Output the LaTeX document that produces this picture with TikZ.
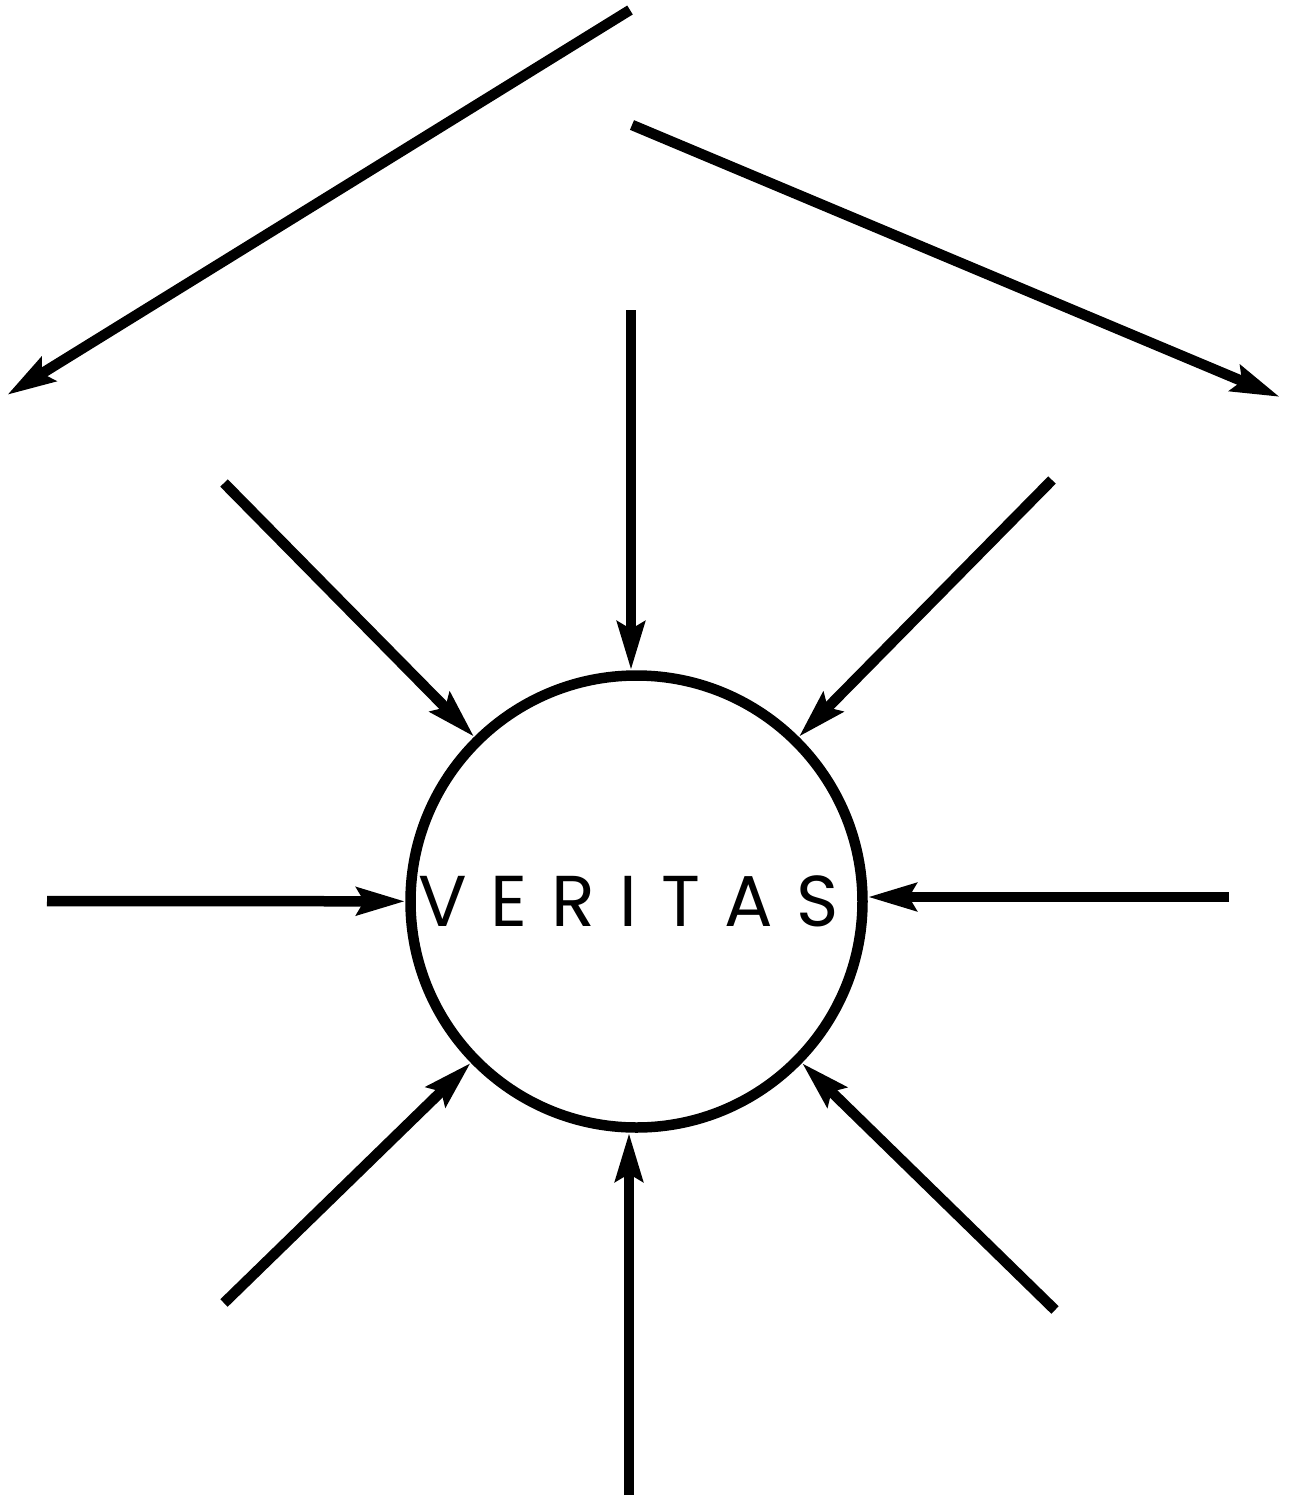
\documentclass[tikz,border=0pt]{standalone}
\usepackage{fontspec}
\setmainfont{Poppins}
\usetikzlibrary{arrows.meta}
\newcommand\vgap{\hspace{24pt}}
\begin{document}
\begin{tikzpicture}[x=1pt,y=-1pt,
  ray/.style={line width=10.5pt, -{Stealth[length=48pt,width=27pt,inset=7pt]}},
  ring/.style={circle, draw, line width=10.5pt, minimum size=452pt, inner sep=0pt}]
\useasboundingbox (0,0) rectangle (1289,1497);
\node[ring] (c) at (636.5,901.5) {};
\node[anchor=base, inner sep=0pt, font=\fontsize{72}{72}\selectfont] (t) at (628.5,926)
  {V\vgap E\vgap R\vgap I\vgap T\vgap A\vgap S};
% top pair
\coordinate (tla) at (630,10);
\coordinate (tlb) at (7,395);
\coordinate (tra) at (632,125);
\coordinate (trb) at (1280,397);
\draw[ray] (tla) -- (tlb);
\draw[ray] (tra) -- (trb);
% rays to the circle
\coordinate (n) at (631,310);
\coordinate (ul) at (224,483);
\coordinate (ur) at (1052,480);
\coordinate (w) at (47,901);
\coordinate (e) at (1229,897);
\coordinate (ll) at (224,1303);
\coordinate (s) at (629,1495);
\coordinate (lr) at (1055,1310);
\draw[ray] (n) -- (n |- c.north);
\draw[ray] (ul) -- (c);
\draw[ray] (ur) -- (c);
\draw[ray] (w) -- (c);
\draw[ray] (e) -- (e -| c.east);
\draw[ray] (ll) -- (c);
\draw[ray] (s) -- (s |- c.south);
\draw[ray] (lr) -- (c);
\end{tikzpicture}
\end{document}
